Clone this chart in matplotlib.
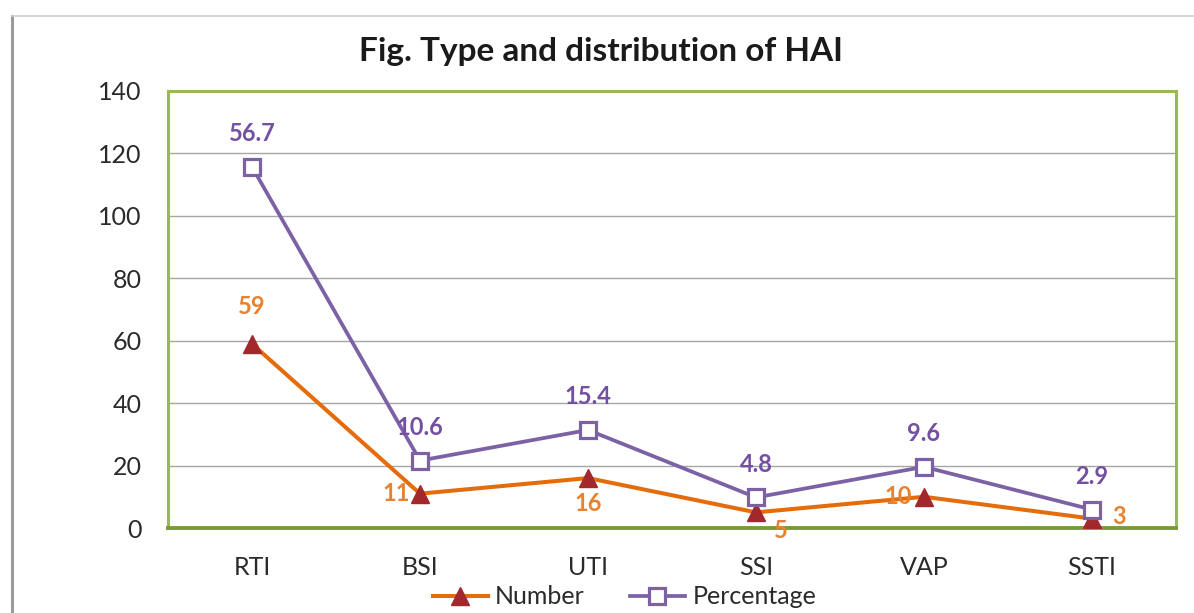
import matplotlib
matplotlib.use("Agg")
import matplotlib.pyplot as plt
from matplotlib.lines import Line2D
import numpy as np

categories = ['RTI', 'BSI', 'UTI', 'SSI', 'VAP', 'SSTI']
number = [59, 11, 16, 5, 10, 3]
percentage = [56.7, 10.6, 15.4, 4.8, 9.6, 2.9]
y_ticks = [0, 20, 40, 60, 80, 100, 120, 140]

plt.rcParams['font.family'] = ['Lato', 'DejaVu Sans']

W, H = 1194, 613
fig = plt.figure(figsize=(W / 100, H / 100), dpi=100)
fig.patch.set_facecolor('white')

# outer frame (left and top edges)
fig.add_artist(Line2D([12 / W, 12 / W], [0, 1 - 16 / H], color='#9a9a9a', lw=2.2))
fig.add_artist(Line2D([12 / W, 1], [1 - 16 / H, 1 - 16 / H], color='#d0d0d0', lw=1.2))

ax = fig.add_axes([168 / W, 85 / H, (1176 - 168) / W, (528 - 91) / H])

x = np.arange(len(categories))
num = np.array(number, dtype=float)
stacked = num + np.array(percentage)

orange = '#E46C0A'
purple = '#7C61A4'

ax.plot(x, num, color=orange, lw=2.9, marker='^', markersize=12.5,
        markerfacecolor='#A3282B', markeredgecolor='#A3282B', zorder=4, label='Number')
ax.plot(x, stacked, color=purple, lw=2.7, marker='s', markersize=12,
        markerfacecolor='white', markeredgecolor=purple, markeredgewidth=2.3,
        zorder=5, label='Percentage')

# data labels
num_offsets = [(0, 37), (-24, 0), (0, -25), (25, -18), (-26, 0), (27, 2)]
for xi, yi, v, off in zip(x, num, number, num_offsets):
    ax.annotate(f'{v}', (xi, yi), xytext=off, textcoords='offset pixels',
                ha='center', va='center', color='#E8822E', fontsize=17,
                fontweight='bold', zorder=6, annotation_clip=False)
for xi, yi, v in zip(x, stacked, percentage):
    ax.annotate(f'{v}', (xi, yi), xytext=(0, 33), textcoords='offset pixels',
                ha='center', va='center', color='#7350A0', fontsize=17,
                fontweight='bold', zorder=6)

ax.set_xlim(-0.5, len(categories) - 0.5)
ax.set_ylim(0, 140)
ax.set_yticks(y_ticks)
ax.set_yticklabels([str(t) for t in y_ticks])
ax.set_xticks(x)
ax.set_xticklabels(categories)
ax.tick_params(axis='both', length=0, labelsize=18, colors='#2a2a2a')
ax.tick_params(axis='y', pad=19)
ax.tick_params(axis='x', pad=20)
ax.grid(axis='y', color='#a6a6a6', lw=1.0)
ax.set_axisbelow(True)
for s in ['left', 'right', 'top']:
    ax.spines[s].set_color('#98B954')
    ax.spines[s].set_linewidth(2.2)
ax.spines['bottom'].set_color('#7A9A3A')
ax.spines['bottom'].set_linewidth(2.8)

fig.text(0.503, 1 - 51 / H, 'Fig. Type and distribution of HAI', ha='center', va='center',
         fontsize=24, fontweight='bold', color='#1a1a1a')

leg = fig.legend(loc='center', bbox_to_anchor=(0.523, 1 - 597 / H), ncol=2, frameon=False,
                 fontsize=18, handlelength=2.2, columnspacing=1.8, handletextpad=0.3,
                 borderpad=0.1)
for t in leg.get_texts():
    t.set_color('#2a2a2a')

fig.savefig('out.png', dpi=100, facecolor='white')
